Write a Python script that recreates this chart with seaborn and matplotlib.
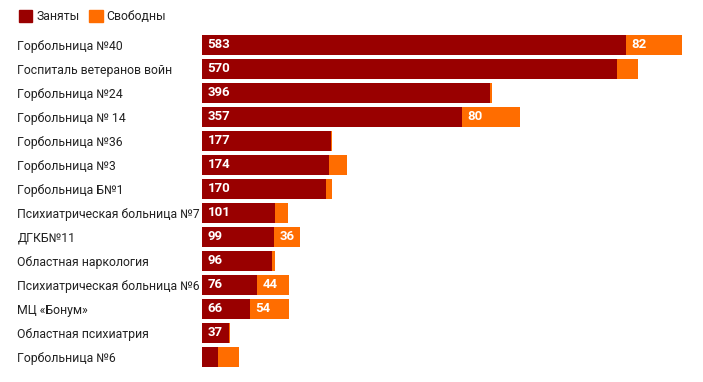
import pandas as pd
import matplotlib.pyplot as plt
import seaborn as sns
from matplotlib.patches import Patch

# Hospitals and bed counts
hospitals = [
    "Горбольница №40", "Госпиталь ветеранов войн", "Горбольница №24", "Горбольница № 14",
    "Горбольница №36", "Горбольница №3", "Горбольница Б№1", "Психиатрическая больница №7",
    "ДГКБ№11", "Областная наркология", "Психиатрическая больница №6", "МЦ «Бонум»",
    "Областная психиатрия", "Горбольница №6",
]
occupied = [583, 570, 396, 357, 177, 174, 170, 101, 99, 96, 76, 66, 37, 22]
free = [82, 30, 3, 80, 2, 26, 9, 17, 36, 4, 44, 54, 2, 29]

red = "#990000"
orange = "#ff6d00"

df = pd.DataFrame({"hospital": hospitals, "occupied": occupied, "free": free})
df["total"] = df["occupied"] + df["free"]

sns.set_style("white")
plt.rcParams["font.family"] = ["Roboto", "DejaVu Sans"]

fig = plt.figure(figsize=(7.03, 3.82), dpi=100)
ax = fig.add_axes([202 / 703, 1 - 368.7 / 382, 480 / 703, (368.7 - 33) / 382])

# stacked bars: total in orange, occupied in red on top
sns.barplot(data=df, x="total", y="hospital", color=orange, width=0.83,
            saturation=1, ax=ax, orient="h", linewidth=0)
sns.barplot(data=df, x="occupied", y="hospital", color=red, width=0.83,
            saturation=1, ax=ax, orient="h", linewidth=0)

# value labels inside segments (hidden if the segment is too narrow)
for i, row in df.iterrows():
    if row["occupied"] >= 35:
        ax.annotate(str(row["occupied"]), (0, i), xytext=(4, 0), textcoords="offset points",
                    ha="left", va="center", color="white", fontsize=9.5, fontweight="bold")
    if row["free"] >= 35:
        ax.annotate(str(row["free"]), (row["occupied"], i), xytext=(4, 0),
                    textcoords="offset points", ha="left", va="center",
                    color="white", fontsize=9.5, fontweight="bold")

ax.set_xlim(0, 660)
ax.set_ylim(13.5, -0.5)
ax.set_xlabel("")
ax.set_ylabel("")
ax.set_xticks([])
ax.tick_params(axis="y", length=0, pad=133, labelsize=8.8, labelcolor="#222222")
for lbl in ax.get_yticklabels():
    lbl.set_horizontalalignment("left")
sns.despine(ax=ax, left=True, bottom=True)

handles = [Patch(color=red, label="Заняты"), Patch(color=orange, label="Свободны")]
fig.legend(handles=handles, loc="upper left", bbox_to_anchor=(8 / 703, 1 + 1 / 382),
           ncol=2, frameon=False, fontsize=8.8, handlelength=1.1, handleheight=1.1,
           handletextpad=0.3, columnspacing=0.8, labelcolor="#222222")

fig.savefig("out.png", dpi=100)
